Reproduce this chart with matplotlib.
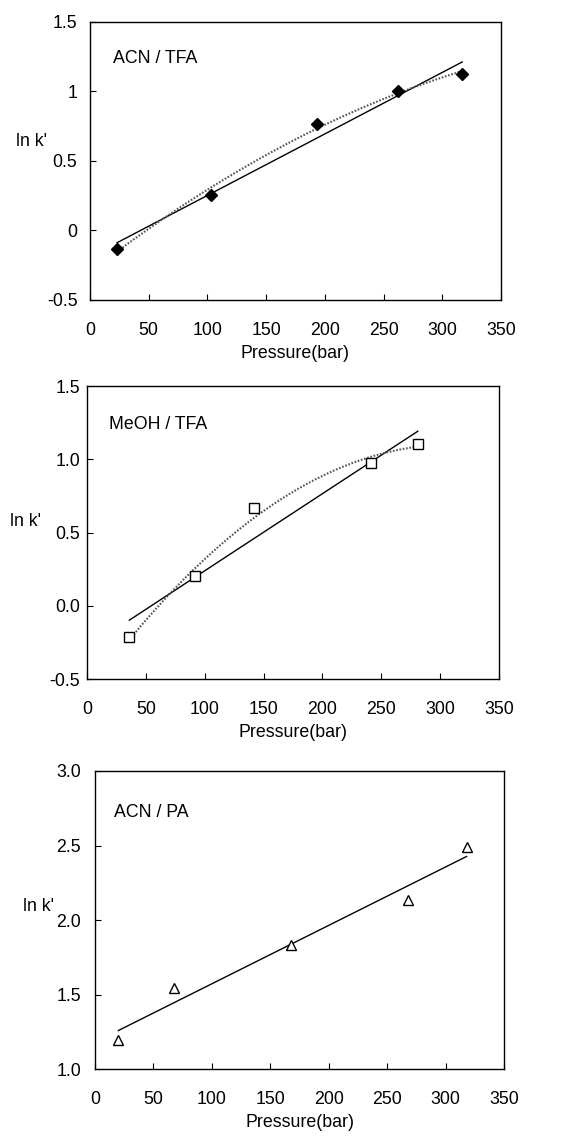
import matplotlib.pyplot as plt
import numpy as np

plt.rcParams['font.family'] = ['Liberation Sans', 'DejaVu Sans']

# ACN / TFA
acn_tfa_p = [23, 103, 193, 262, 317]
acn_tfa_lnk = [-0.13, 0.255, 0.765, 1.004, 1.128]

# MeOH / TFA
meoh_tfa_p = [36, 92, 142, 241, 281]
meoh_tfa_lnk = [-0.216, 0.20, 0.664, 0.977, 1.105]

# ACN / PA
acn_pa_p = [20, 68, 168, 268, 318]
acn_pa_lnk = [1.192, 1.547, 1.835, 2.136, 2.491]

xticks = [0, 50, 100, 150, 200, 250, 300, 350]
yticks_1 = [-0.5, 0, 0.5, 1, 1.5]
ylabels_1 = ["-0.5", "0", "0.5", "1", "1.5"]
yticks_2 = [-0.5, 0.0, 0.5, 1.0, 1.5]
ylabels_2 = ["-0.5", "0.0", "0.5", "1.0", "1.5"]
yticks_3 = [1.0, 1.5, 2.0, 2.5, 3.0]
ylabels_3 = ["1.0", "1.5", "2.0", "2.5", "3.0"]

FS = 12.8


def panel(fig, rect, x, y, marker, mfc, ms, yticks, ylabels, name,
          name_pos, ylab_pos, ypad, quad):
    ax = fig.add_axes(rect)
    x = np.array(x, dtype=float)
    y = np.array(y, dtype=float)

    # straight trend line, plus 2nd order one where the original has it
    xs = np.linspace(x.min(), x.max(), 200)
    lin = np.polyfit(x, y, 1)
    ax.plot(xs, np.polyval(lin, xs), color='black', lw=1.0, zorder=2)
    if quad:
        q = np.polyfit(x, y, 2)
        ax.plot(xs, np.polyval(q, xs), color='#555555', lw=1.5,
                linestyle=(0, (0.8, 0.8)), zorder=2)
    ax.plot(x, y, linestyle='none', marker=marker, ms=ms, mfc=mfc,
            mec='black', mew=1.0, zorder=3)

    ax.set_xlim(0, 350)
    ax.set_ylim(yticks[0], yticks[-1])
    ax.set_xticks(xticks)
    ax.set_xticklabels([str(t) for t in xticks])
    ax.set_yticks(yticks)
    ax.set_yticklabels(ylabels)
    ax.tick_params(axis='x', direction='in', length=4, width=0.8,
                   labelsize=FS, pad=16)
    ax.tick_params(axis='y', direction='in', length=4, width=0.8,
                   labelsize=FS, pad=ypad)
    for s in ax.spines.values():
        s.set_linewidth(1.0)
    ax.set_xlabel("Pressure(bar)", fontsize=FS, labelpad=4)
    ax.text(ylab_pos[0], ylab_pos[1], "ln k'", transform=ax.transAxes,
            fontsize=FS, ha='left', va='center')
    ax.text(name_pos[0], name_pos[1], name, transform=ax.transAxes,
            fontsize=FS, ha='left', va='center')
    return ax


def draw() -> None:
    fig = plt.figure(figsize=(5.81, 11.38), dpi=100)

    panel(fig, [0.1549, 0.7364, 0.7074, 0.2443], acn_tfa_p, acn_tfa_lnk,
          'D', 'black', 6, yticks_1, ylabels_1, "ACN / TFA",
          (0.056, 0.867), (-0.18, 0.57), 9, True)
    panel(fig, [0.1497, 0.4033, 0.7091, 0.2575], meoh_tfa_p, meoh_tfa_lnk,
          's', 'white', 6.5, yticks_2, ylabels_2, "MeOH / TFA",
          (0.053, 0.867), (-0.187, 0.536), 5, True)
    panel(fig, [0.1635, 0.0606, 0.7040, 0.2619], acn_pa_p, acn_pa_lnk,
          '^', 'white', 7, yticks_3, ylabels_3, "ACN / PA",
          (0.046, 0.862), (-0.176, 0.544), 10, False)

    fig.savefig("out.png", dpi=100)


draw()
